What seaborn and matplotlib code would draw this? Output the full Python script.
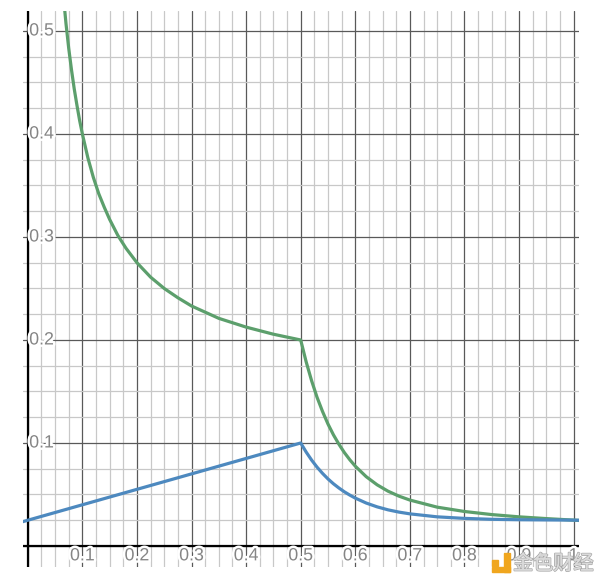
import numpy as np
import pandas as pd
import matplotlib
matplotlib.use("Agg")
import matplotlib.pyplot as plt
import matplotlib.patheffects as pe
from matplotlib.patches import Rectangle
import seaborn as sns

# ---- data ----
blue_x = [-0.01, 0.0, 0.1, 0.2, 0.3, 0.4, 0.5, 0.51, 0.52, 0.53, 0.54, 0.55, 0.56, 0.57,
          0.58, 0.59, 0.60, 0.62, 0.64, 0.66, 0.68, 0.70, 0.75, 0.80, 0.85, 0.90, 0.95,
          1.00, 1.01]
blue_y = [0.0235, 0.025, 0.040, 0.055, 0.070, 0.085, 0.100, 0.0912, 0.0834, 0.0765, 0.0705,
          0.0651, 0.0604, 0.0563, 0.0526, 0.0494, 0.0465, 0.0417, 0.0380, 0.0351, 0.0329,
          0.0312, 0.0283, 0.0268, 0.0259, 0.0255, 0.0253, 0.0251, 0.0250]

green_x = [0.065, 0.07, 0.075, 0.08, 0.085, 0.09, 0.095, 0.10, 0.11, 0.12, 0.13, 0.14, 0.15,
           0.165, 0.18, 0.20, 0.225, 0.25, 0.275, 0.30, 0.35, 0.40, 0.45, 0.50, 0.51, 0.52,
           0.53, 0.54, 0.55, 0.56, 0.57, 0.58, 0.59, 0.60, 0.62, 0.64, 0.66, 0.68, 0.70,
           0.75, 0.80, 0.85, 0.90, 0.95, 1.00, 1.01]
green_y = [0.535, 0.507, 0.483, 0.4625, 0.444, 0.428, 0.413, 0.400, 0.377, 0.358, 0.342,
           0.329, 0.317, 0.3015, 0.289, 0.275, 0.261, 0.250, 0.241, 0.233, 0.221, 0.2125,
           0.2056, 0.200, 0.1788, 0.1604, 0.1443, 0.1306, 0.1184, 0.1079, 0.0988, 0.0907,
           0.0837, 0.0775, 0.0673, 0.0594, 0.0532, 0.0484, 0.0446, 0.0377, 0.0335, 0.0305,
           0.0283, 0.0266, 0.0251, 0.0248]

x_tick_vals = [0.1, 0.2, 0.3, 0.4, 0.5, 0.6, 0.7, 0.8, 0.9, 1.0]
x_tick_labels = ["0.1", "0.2", "0.3", "0.4", "0.5", "0.6", "0.7", "0.8", "0.9", "1"]
y_tick_vals = [0.1, 0.2, 0.3, 0.4, 0.5]
y_tick_labels = ["0.1", "0.2", "0.3", "0.4", "0.5"]

sns.set_style("white")
plt.rcParams["font.family"] = ["Liberation Sans", "DejaVu Sans"]

fig = plt.figure(figsize=(6.0, 5.81), dpi=100)
ax = fig.add_axes([23 / 600, 14 / 581, 556 / 600, 556 / 581])
ax.set_xlim(-0.0088, 1.0099)
ax.set_ylim(-0.0204, 0.5194)

# grid
ax.set_xticks(np.arange(0, 1.01, 0.1))
ax.set_xticks(np.arange(-0.0, 1.01, 0.025), minor=True)
ax.set_yticks(np.arange(0, 0.51, 0.1))
ax.set_yticks(np.arange(-0.0, 0.52, 0.025), minor=True)
ax.grid(which="minor", color="#c8c8c8", linewidth=0.9, zorder=0)
ax.grid(which="major", color="#595959", linewidth=0.9, zorder=0)
ax.set_axisbelow(True)
ax.tick_params(which="both", length=0, labelbottom=False, labelleft=False)
for s in ax.spines.values():
    s.set_visible(False)

# axes lines
ax.axhline(0, color="black", linewidth=1.6, zorder=2)
ax.axvline(0, color="black", linewidth=1.6, zorder=2)

# curves
df_b = pd.DataFrame({"x": blue_x, "y": blue_y})
df_g = pd.DataFrame({"x": green_x, "y": green_y})
sns.lineplot(data=df_g, x="x", y="y", color="#5c9f6c", linewidth=2.3, sort=False,
             estimator=None, ax=ax, zorder=4)
sns.lineplot(data=df_b, x="x", y="y", color="#4d89bf", linewidth=2.3, sort=False,
             estimator=None, ax=ax, zorder=4)
ax.set_xlabel("")
ax.set_ylabel("")

halo = [pe.withStroke(linewidth=3.5, foreground="white")]
for v, t in zip(x_tick_vals, x_tick_labels):
    ax.annotate(t, xy=(v, 0), xytext=(0, -1), textcoords="offset points",
                ha="center", va="top", fontsize=12.8, color="#858585",
                path_effects=halo, zorder=5)
for v, t in zip(y_tick_vals, y_tick_labels):
    ax.annotate(t, xy=(0, v), xytext=(1, 0), textcoords="offset points",
                ha="left", va="center", fontsize=12.8, color="#858585",
                path_effects=halo, zorder=5)

# watermark
logo = "#f0a61e"
fig.patches.append(Rectangle((492 / 600, 1 - 566 / 581), 6 / 600, 6 / 581,
                             transform=fig.transFigure, color=logo, zorder=10))
fig.patches.append(Rectangle((504 / 600, 1 - 572 / 581), 6 / 600, 19 / 581,
                             transform=fig.transFigure, color=logo, zorder=10))
fig.patches.append(Rectangle((492 / 600, 1 - 572 / 581), 18 / 600, 5 / 581,
                             transform=fig.transFigure, color=logo, zorder=10))
fig.text(513 / 600, 1 - 564 / 581, "金色财经", ha="left", va="center", fontsize=14.5,
         color="#dadada", family=["Noto Sans CJK SC", "DejaVu Sans"],
         path_effects=[pe.withStroke(linewidth=1.2, foreground="#a9a9a9"),
                       pe.Normal()], zorder=10)

fig.savefig("out.png", dpi=100)
